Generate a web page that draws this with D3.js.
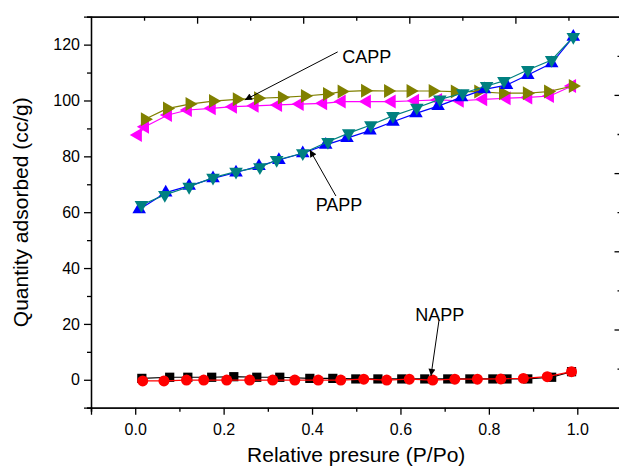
<!DOCTYPE html>
<html><head><meta charset="utf-8">
<script src="https://cdn.jsdelivr.net/npm/d3@7"></script>
<style>
html,body{margin:0;padding:0;background:#fff;}
svg{display:block;font-family:Arial,"Liberation Sans",sans-serif;}
</style></head>
<body>
<svg id="c" width="619" height="467"></svg>
<script>
// ---- data ----
const xLabel = "Relative presure (P/Po)";
const yLabel = "Quantity adsorbed (cc/g)";
const xTicksMajor = [0.0, 0.2, 0.4, 0.6, 0.8, 1.0];
const yTicksMajor = [0, 20, 40, 60, 80, 100, 120];

// CAPP adsorption (olive, right triangles)
const cappAdsX = [0.022,0.072,0.123,0.176,0.230,0.278,0.332,0.384,0.434,0.467,0.520,0.572,0.623,0.673,0.723,0.776,0.832,0.886,0.934,0.990];
const cappAdsY = [93.3,97.1,98.7,99.8,100.4,100.8,101.1,101.6,102.3,103.2,103.5,103.4,103.4,103.4,103.2,103.2,102.6,102.6,103.2,105.2];
// CAPP desorption (magenta, left triangles)
const cappDesX = [0.006,0.022,0.074,0.119,0.173,0.221,0.270,0.323,0.372,0.425,0.467,0.524,0.580,0.633,0.685,0.734,0.787,0.840,0.889,0.938,0.988];
const cappDesY = [87.6,90.6,94.8,96.6,97.2,97.8,98.1,98.4,98.7,99.0,99.6,99.6,99.6,99.9,100.2,99.9,100.4,100.8,101.1,101.6,105.2];
// PAPP (blue, up triangles)
const pappAdsX = [0.009,0.069,0.122,0.176,0.228,0.280,0.325,0.379,0.431,0.479,0.531,0.583,0.635,0.685,0.738,0.790,0.840,0.888,0.942,0.991];
const pappAdsY = [61.0,67.0,69.4,72.1,74.2,76.5,78.7,81.1,84.1,86.5,89.2,92.4,95.4,98.0,101.1,104.0,105.5,109.1,113.3,122.8];
// PAPP (teal, down triangles)
const pappDesX = [0.014,0.067,0.122,0.176,0.228,0.282,0.320,0.379,0.436,0.483,0.533,0.583,0.637,0.689,0.741,0.795,0.834,0.888,0.942,0.991];
const pappDesY = [62.6,66.2,69.1,72.4,74.5,76.1,78.7,81.1,85.2,88.3,91.2,94.5,97.4,100.4,102.6,105.2,107.0,110.9,114.5,122.8];
// NAPP (black, squares)
const nappAdsX = [0.015,0.078,0.119,0.173,0.223,0.275,0.327,0.395,0.447,0.499,0.549,0.603,0.655,0.707,0.757,0.809,0.841,0.888,0.942,0.987];
const nappAdsY = [0.5,0.9,0.9,0.9,1.1,0.9,0.9,0.5,0.5,0.3,0.3,0.3,0.3,0.3,0.3,0.3,0.3,0.3,0.9,2.9];
// NAPP (red, circles)
const nappDesX = [0.017,0.065,0.116,0.155,0.207,0.259,0.311,0.361,0.414,0.465,0.517,0.569,0.620,0.673,0.723,0.774,0.827,0.878,0.932,0.987];
const nappDesY = [-0.4,-0.4,-0.1,-0.1,-0.1,-0.1,-0.1,-0.1,-0.1,-0.1,0.2,-0.1,0.2,-0.1,0.2,0.2,0.3,0.5,1.1,2.9];

// annotations: [label, textX, textY, fromX, fromY, toX, toY] in data units
const notes = [
  ["CAPP", 0.524, 115.6, 0.458, 117.4, 0.248, 100.2],
  ["PAPP", 0.461, 62.6, 0.454, 65.8, 0.395, 82.3],
  ["NAPP", 0.689, 23.2, 0.687, 21.1, 0.669, 1.4]
];

// ---- chart ----
const svg = d3.select("#c");
const x = d3.scaleLinear().domain([-0.1, 1.1]).range([91, 621.5]);
const y = d3.scaleLinear().domain([-10, 130]).range([407.7, 16.7]);
const topS = d3.scaleLinear().domain([0, 10]).range([91, 621.5]);
const rightS = d3.scaleLinear().domain([0, 10]).range([16.7, 407.7]);

const defs = svg.append("defs");
defs.append("marker").attr("id","ah").attr("viewBox","0 0 10 10").attr("refX",10).attr("refY",5)
  .attr("markerWidth",9).attr("markerHeight",7).attr("markerUnits","userSpaceOnUse").attr("orient","auto")
  .append("path").attr("d","M0,0L10,5L0,10z").attr("fill","#000");

const series = [
  {xs: cappDesX, ys: cappDesY, color: "#ff00ff", sym: d3.symbolTriangle, rot: -90, size: 85},
  {xs: cappAdsX, ys: cappAdsY, color: "#808000", sym: d3.symbolTriangle, rot: 90, size: 85},
  {xs: pappAdsX, ys: pappAdsY, color: "#0000ff", sym: d3.symbolTriangle, rot: 0, size: 80},
  {xs: pappDesX, ys: pappDesY, color: "#008080", sym: d3.symbolTriangle, rot: 180, size: 80},
  {xs: nappAdsX, ys: nappAdsY, color: "#000000", sym: d3.symbolSquare, rot: 0, size: 85},
  {xs: nappDesX, ys: nappDesY, color: "#ff0000", sym: d3.symbolCircle, rot: 0, size: 95}
];

const line = d3.line().x(d => x(d[0])).y(d => y(d[1]));
series.forEach(s => {
  const pts = s.xs.map((v, i) => [v, s.ys[i]]);
  const g = svg.append("g");
  g.append("path").attr("d", line(pts)).attr("fill","none").attr("stroke", s.color).attr("stroke-width",1.2);
  g.selectAll("path.m").data(pts).join("path").attr("class","m")
    .attr("d", d3.symbol().type(s.sym).size(s.size))
    .attr("transform", d => `translate(${x(d[0])},${y(d[1])}) rotate(${s.rot})`)
    .attr("fill", s.color);
});

// axes
const axW = 1.3;
function styleAxis(g){
  g.select(".domain").attr("stroke","#000").attr("stroke-width",axW);
  g.selectAll(".tick line").attr("stroke","#000").attr("stroke-width",axW);
  g.selectAll(".tick text").attr("fill","#000").attr("font-size","16px").attr("font-family","Arial, 'Liberation Sans', sans-serif");
}
const xMinor = d3.range(-1, 12, 2).map(v => v / 10);
const yMinor = d3.range(-10, 131, 20);

// bottom
svg.append("g").attr("transform", `translate(0,${y(-10)})`)
  .call(d3.axisBottom(x).tickValues(xMinor).tickSize(4).tickFormat(""))
  .call(styleAxis);
svg.append("g").attr("transform", `translate(0,${y(-10)})`)
  .call(d3.axisBottom(x).tickValues(xTicksMajor).tickSize(7).tickPadding(9).tickFormat(d3.format(".1f")))
  .call(styleAxis);
// left
svg.append("g").attr("transform", `translate(${x(-0.1)},0)`)
  .call(d3.axisLeft(y).tickValues(yMinor).tickSize(4).tickFormat(""))
  .call(styleAxis);
svg.append("g").attr("transform", `translate(${x(-0.1)},0)`)
  .call(d3.axisLeft(y).tickValues(yTicksMajor).tickSize(7).tickPadding(4).tickFormat(d3.format("d")))
  .call(styleAxis);
// top (inward ticks)
svg.append("g").attr("transform", `translate(0,${y(130)})`)
  .call(d3.axisTop(topS).tickValues([1,3,5,7,9]).tickSizeInner(-4).tickSizeOuter(0).tickFormat(""))
  .call(styleAxis);
svg.append("g").attr("transform", `translate(0,${y(130)})`)
  .call(d3.axisTop(topS).tickValues([2,4,6,8]).tickSizeInner(-7).tickSizeOuter(0).tickFormat(""))
  .call(styleAxis);
// right (inward ticks)
svg.append("g").attr("transform", `translate(${x(1.1)},0)`)
  .call(d3.axisRight(rightS).tickValues([1,3,5,7,9]).tickSizeInner(-4).tickSizeOuter(0).tickFormat(""))
  .call(styleAxis);
svg.append("g").attr("transform", `translate(${x(1.1)},0)`)
  .call(d3.axisRight(rightS).tickValues([2,4,6,8]).tickSizeInner(-7).tickSizeOuter(0).tickFormat(""))
  .call(styleAxis);

// axis titles
svg.append("text").attr("x", x(0.5)).attr("y", 462).attr("text-anchor","middle")
  .attr("font-size","21px").attr("fill","#000").text(xLabel);
svg.append("text").attr("transform", `translate(28,${y(60)}) rotate(-90)`).attr("text-anchor","middle")
  .attr("font-size","21px").attr("fill","#000").text(yLabel);

// annotations
notes.forEach(n => {
  svg.append("line").attr("x1", x(n[3])).attr("y1", y(n[4])).attr("x2", x(n[5])).attr("y2", y(n[6]))
    .attr("stroke","#000").attr("stroke-width",1).attr("marker-end","url(#ah)");
  svg.append("text").attr("x", x(n[1])).attr("y", y(n[2])).attr("dy","0.35em").attr("text-anchor","middle")
    .attr("font-size","18px").attr("fill","#000").text(n[0]);
});
</script>
</body></html>
